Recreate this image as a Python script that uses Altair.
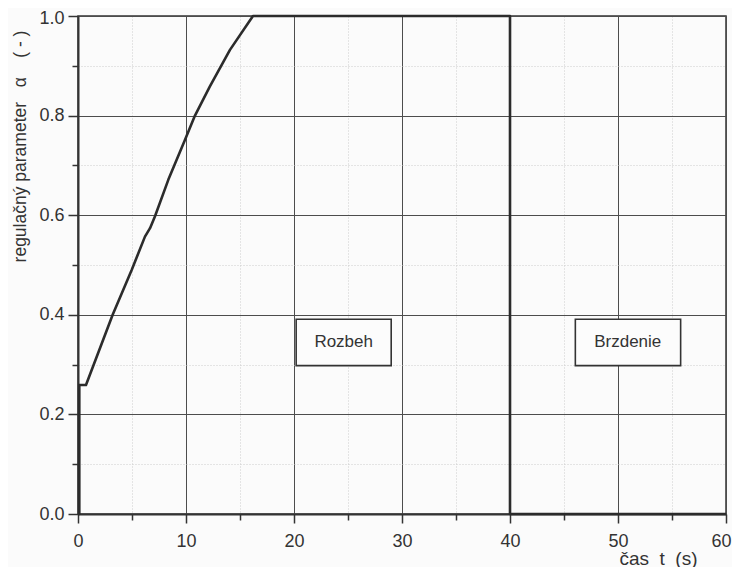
import altair as alt
import pandas as pd

# curve data
t_vals = [0.0, 0.12, 0.12, 0.74, 3.21, 4.97, 6.2, 6.67, 7.13, 8.36, 9.9, 10.83, 12.2, 14.07, 16.2, 40.0, 40.0, 60.0]
alpha_vals = [0.0, 0.0, 0.259, 0.259, 0.40, 0.49, 0.557, 0.574, 0.598, 0.671, 0.751, 0.80, 0.858, 0.932, 1.0, 1.0, 0.0, 0.0]

# annotation boxes
box_labels = ["Rozbeh", "Brzdenie"]
box_t_start = [20.2, 46.05]
box_t_end = [29.0, 55.8]
box_t_center = [24.6, 50.9]
box_alpha_low = [0.298, 0.298]
box_alpha_high = [0.391, 0.391]
box_alpha_center = [0.3445, 0.3445]

x_ticks = [0, 5, 10, 15, 20, 25, 30, 35, 40, 45, 50, 55, 60]
y_ticks = [0.0, 0.1, 0.2, 0.3, 0.4, 0.5, 0.6, 0.7, 0.8, 0.9, 1.0]

NB = "\u00a0"
x_title = "čas" + NB * 2 + "t" + NB * 2 + "(s)"
y_title = "regulačný" + NB + "parameter" + NB * 3 + "α" + NB * 4 + "(" + NB + "-" + NB + ")"

curve = pd.DataFrame({"t": t_vals, "a": alpha_vals, "i": list(range(len(t_vals)))})
boxes = pd.DataFrame({
    "label": box_labels, "t0": box_t_start, "t1": box_t_end, "tc": box_t_center,
    "a0": box_alpha_low, "a1": box_alpha_high, "ac": box_alpha_center,
})

FONT = "Liberation Sans"

x_scale = alt.Scale(domain=[0, 60], nice=False, zero=False)
y_scale = alt.Scale(domain=[0, 1], nice=False)

minor_x = "datum.value % 10 != 0"
minor_y = "round(datum.value * 10) % 2 != 0"

x_axis = alt.Axis(
    values=x_ticks,
    labelExpr="datum.value % 10 == 0 ? datum.label : ''",
    labelOffset={"condition": {"test": "datum.value == 60", "value": -5}, "value": 0},
    grid=True,
    gridColor={"condition": {"test": minor_x, "value": "#cccccc"}, "value": "#4d4d4d"},
    gridDash={"condition": {"test": minor_x, "value": [1, 2]}, "value": []},
    gridWidth=1,
    tickSize={"condition": {"test": minor_x, "value": 6}, "value": 9},
    tickColor="#333333", tickWidth=1.5,
    domainColor="#333333", domainWidth=2,
    labelFont=FONT, labelFontSize=18, labelColor="#333333", labelPadding=9,
    labelFlush=False,
    title=x_title, titleFont=FONT, titleFontSize=19, titleFontWeight="normal",
    titleColor="#333333", titleAlign="right", titleBaseline="middle",
    titleX=619, titleY=44,
)

y_axis = alt.Axis(
    values=y_ticks,
    labelExpr="round(datum.value * 10) % 2 == 0 ? format(datum.value, '.1f') : ''",
    labelOffset={"condition": {"test": "datum.value == 1", "value": 2}, "value": 0},
    grid=True,
    gridColor={"condition": {"test": minor_y, "value": "#cccccc"}, "value": "#4d4d4d"},
    gridDash={"condition": {"test": minor_y, "value": [1, 2]}, "value": []},
    gridWidth=1,
    tickSize={"condition": {"test": minor_y, "value": 6}, "value": 10},
    tickColor="#333333", tickWidth=1.5,
    domainColor="#333333", domainWidth=2,
    labelFont=FONT, labelFontSize=18, labelColor="#333333", labelPadding=4,
    labelFlush=False,
    title=y_title, titleFont=FONT, titleFontSize=17.5,
    titleFontWeight="normal", titleColor="#333333",
    titleAlign="center", titleBaseline="middle", titleAngle=-90,
    titleX=-58, titleY=130,
)

line = alt.Chart(curve).mark_line(color="#2b2b2b", strokeWidth=2.6, strokeJoin="round").encode(
    x=alt.X("t:Q", scale=x_scale, axis=x_axis),
    y=alt.Y("a:Q", scale=y_scale, axis=y_axis),
    order="i:Q",
)

rects = alt.Chart(boxes).mark_rect(fill="#fcfcfc", stroke="#333333", strokeWidth=1.6).encode(
    x=alt.X("t0:Q", scale=x_scale), x2="t1:Q",
    y=alt.Y("a0:Q", scale=y_scale), y2="a1:Q",
)

texts = alt.Chart(boxes).mark_text(font=FONT, fontSize=17, color="#333333",
                                   align="center", baseline="middle").encode(
    x=alt.X("tc:Q", scale=x_scale),
    y=alt.Y("ac:Q", scale=y_scale),
    text="label:N",
)

chart = alt.layer(rects, texts, line).properties(
    width=648, height=498,
    autosize=alt.AutoSizeParams(type="none"),
    padding={"left": 70, "top": 8, "right": 6, "bottom": 53},
    background="#fbfbfb",
).configure_view(stroke="#333333", strokeWidth=1.5)

chart.save("out.html", embed_options={"renderer": "svg", "actions": False})
